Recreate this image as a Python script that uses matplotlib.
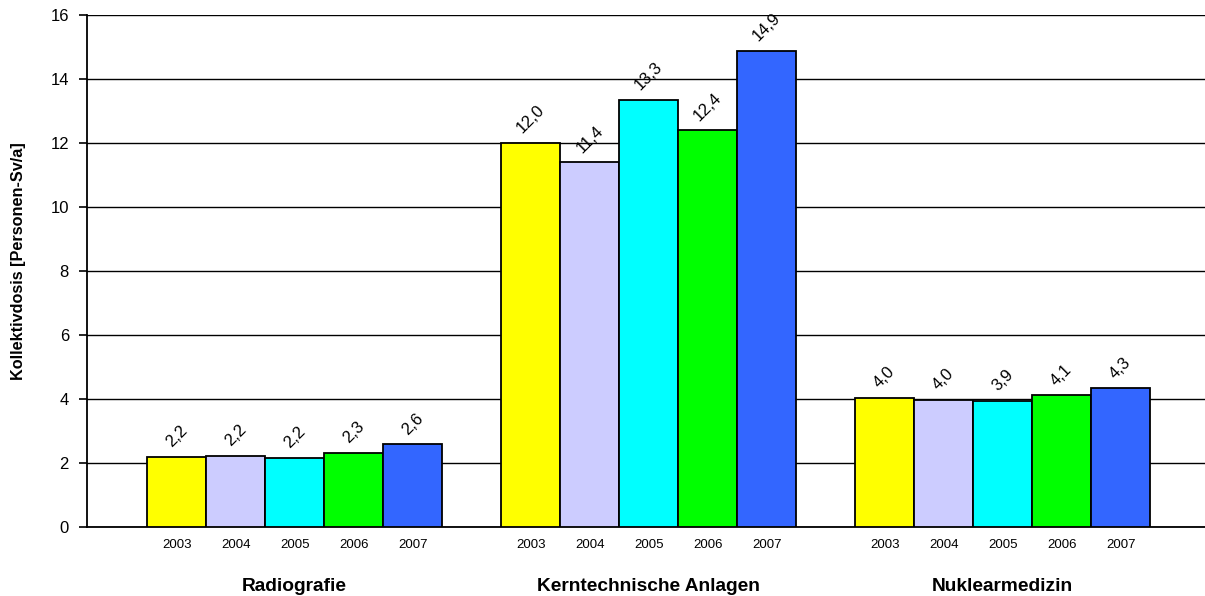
import numpy as np
import matplotlib.pyplot as plt
from matplotlib import transforms

plt.rcParams['font.family'] = ['Liberation Sans', 'DejaVu Sans']

groups = ['Radiografie', 'Kerntechnische Anlagen', 'Nuklearmedizin']
years = ['2003', '2004', '2005', '2006', '2007']
# Kollektivdosis je Jahr (Personen-Sv/a)
radiografie = [2.2, 2.22, 2.16, 2.32, 2.58]
kerntechnik = [12.0, 11.4, 13.35, 12.4, 14.88]
nuklearmed = [4.04, 3.97, 3.94, 4.12, 4.33]
colors = ['#FFFF00', '#CCCCFF', '#00FFFF', '#00FF00', '#3366FF']

data = [radiografie, kerntechnik, nuklearmed]

fig = plt.figure(figsize=(12.05, 5.96), dpi=100)
ax = fig.add_axes([0.0722, 0.1158, 0.9278, 0.859])

xticks = []
xlabels = []
for g, vals in enumerate(data):
    for j, v in enumerate(vals):
        x = g * 6 + j
        ax.bar(x, v, width=1.0, color=colors[j], edgecolor='black', linewidth=1.3, zorder=3)
        ax.annotate(('%.1f' % v).replace('.', ','), (x, v), xytext=(0, 5),
                    textcoords='offset points', ha='center', va='bottom',
                    rotation=45, fontsize=12, zorder=4)
        xticks.append(x)
        xlabels.append(years[j])

ax.set_xlim(-1.52, 17.43)
ax.set_ylim(0, 16)
ax.set_yticks(np.arange(0, 17, 2))
ax.tick_params(axis='y', labelsize=12, length=6, width=1.2, direction='out', pad=7)
ax.set_xticks(xticks)
ax.set_xticklabels(xlabels, fontsize=9.5)
ax.tick_params(axis='x', length=0, pad=9)

ax.grid(axis='y', color='black', linewidth=1.0, zorder=0)
for s in ['top', 'right']:
    ax.spines[s].set_visible(False)
ax.spines['left'].set_linewidth(1.3)
ax.spines['bottom'].set_linewidth(1.3)

trans = transforms.blended_transform_factory(ax.transData, fig.transFigure)
for g, name in enumerate(groups):
    ax.text(g * 6 + 2, 0.016, name, transform=trans, ha='center', va='center',
            fontsize=13.8, fontweight='bold')

ax.set_ylabel('Kollektivdosis [Personen-Sv/a]', fontsize=11.7, fontweight='bold')
ax.yaxis.set_label_coords(-0.0546, 0.52)

fig.savefig('out.png', dpi=100)
